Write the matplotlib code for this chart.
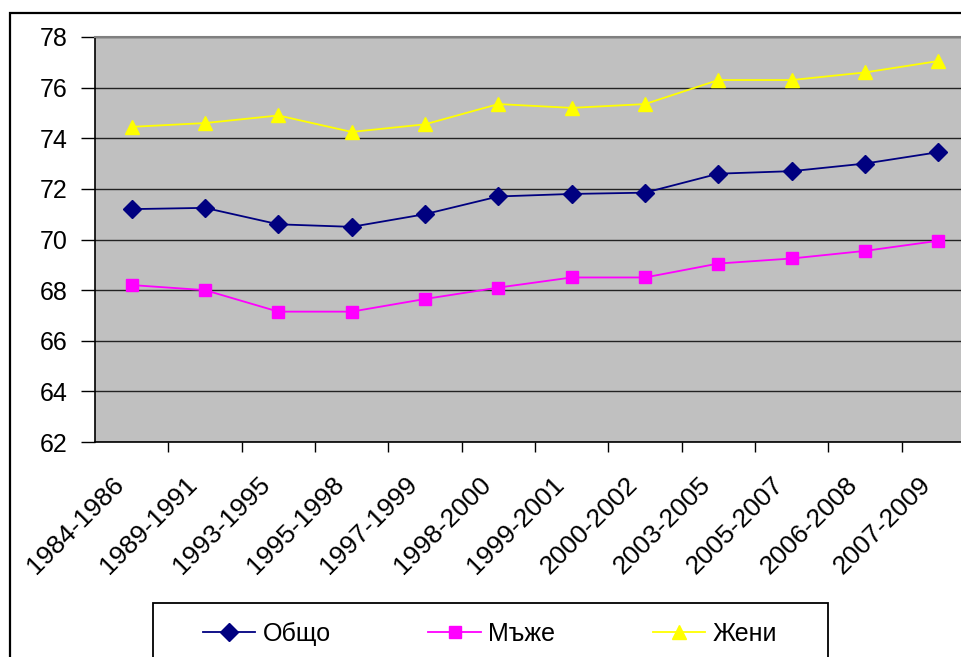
import matplotlib.pyplot as plt
import matplotlib.transforms as mtransforms
from matplotlib.patches import Rectangle

# --- DATOS ---
periodos = ['1984-1986', '1989-1991', '1993-1995', '1995-1998', '1997-1999', '1998-2000',
            '1999-2001', '2000-2002', '2003-2005', '2005-2007', '2006-2008', '2007-2009']
obshto = [71.2, 71.25, 70.6, 70.5, 71.0, 71.7, 71.8, 71.85, 72.6, 72.7, 73.0, 73.45]
muzhe = [68.2, 68.0, 67.15, 67.15, 67.65, 68.1, 68.5, 68.5, 69.05, 69.25, 69.55, 69.95]
zheni = [74.45, 74.6, 74.9, 74.25, 74.55, 75.35, 75.2, 75.35, 76.3, 76.3, 76.6, 77.05]
y_ticks = [62, 64, 66, 68, 70, 72, 74, 76, 78]

plt.rcParams['font.family'] = ['Liberation Sans', 'DejaVu Sans']

W, H = 962, 657
fig = plt.figure(figsize=(W / 100, H / 100), dpi=100)

# marco exterior del grafico
fig.patches.append(Rectangle((10 / W, -0.1), 1.1, 1 - 13 / H + 0.1, transform=fig.transFigure,
                             fill=False, edgecolor='black', linewidth=1.6))

# area del grafico (sale por la derecha como en el original)
ax = fig.add_axes([95 / W, 1 - 442 / H, 880 / W, 405 / H])
ax.set_facecolor('#c0c0c0')

x = range(len(periodos))
ax.plot(x, obshto, color='#000080', marker='D', markersize=9, linewidth=1.3, label='Общо')
ax.plot(x, muzhe, color='#ff00ff', marker='s', markersize=9, linewidth=1.3, label='Мъже')
ax.plot(x, zheni, color='#ffff00', marker='^', markersize=10, linewidth=1.3, label='Жени')

ax.set_ylim(62, 78)
ax.set_xlim(-0.5, len(periodos) - 0.5)
ax.set_yticks(y_ticks)
ax.yaxis.grid(True, color='#222222', linewidth=1.0)
ax.set_axisbelow(True)
ax.tick_params(axis='y', labelsize=18, length=10, width=1, direction='out', pad=10)

ax.set_xticks(list(x))
ax.set_xticklabels(periodos, rotation=45, ha='right', rotation_mode='anchor', fontsize=19)
ax.tick_params(axis='x', which='major', length=0, pad=22)
ax.set_xticks([i + 0.5 for i in range(len(periodos) - 1)], minor=True)
ax.tick_params(axis='x', which='minor', length=7, width=1, direction='out')
# mover etiquetas un poco a la izquierda
desplazamiento = mtransforms.ScaledTranslation(-20 / 100, 0, fig.dpi_scale_trans)
for lbl in ax.get_xticklabels():
    lbl.set_transform(lbl.get_transform() + desplazamiento)

ax.spines['top'].set_color('#808080')
ax.spines['top'].set_linewidth(1.5)
ax.spines['right'].set_visible(False)
ax.spines['left'].set_linewidth(1.2)
ax.spines['bottom'].set_linewidth(1.2)

# marco de la leyenda (sale por abajo)
fig.patches.append(Rectangle((153 / W, -0.1), 675 / W, 1 - 603 / H + 0.1, transform=fig.transFigure,
                             facecolor='white', edgecolor='black', linewidth=1.3))
leg = fig.legend(loc='center', ncol=3, bbox_to_anchor=(490 / W, 1 - 634 / H),
                 bbox_transform=fig.transFigure, fontsize=18, frameon=False,
                 handlelength=2.1, handletextpad=0.3, columnspacing=3.9,
                 borderpad=0, borderaxespad=0)

plt.savefig('out.png', dpi=100)
